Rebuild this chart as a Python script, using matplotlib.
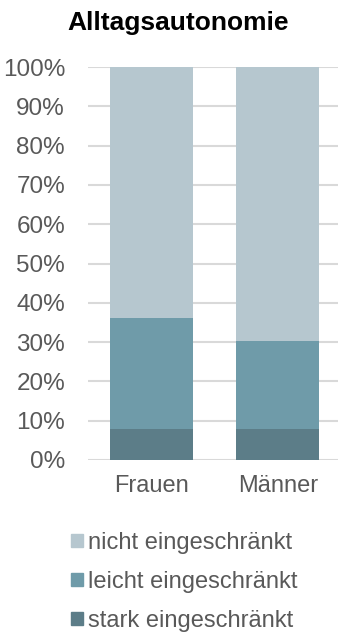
import matplotlib.pyplot as plt
from matplotlib.patches import Patch

plt.rcParams['font.family'] = ['Liberation Sans', 'DejaVu Sans']

gruppen = ['Frauen', 'Männer']
stark = [7.8, 7.9]
leicht = [28.3, 22.5]
nicht = [63.9, 69.6]
kategorien = ['stark eingeschränkt', 'leicht eingeschränkt', 'nicht eingeschränkt']
farben = ['#5C7D88', '#6F9BA9', '#B6C7CF']
grau = '#595959'

fig = plt.figure(figsize=(3.38, 6.37), dpi=100)
ax = fig.add_axes([88 / 338, 1 - 460 / 637, 253 / 338, 393 / 637])

x = range(len(gruppen))
unten = [0, 0]
for werte, farbe in zip([stark, leicht, nicht], farben):
    ax.bar(x, werte, bottom=unten, width=0.66, color=farbe, zorder=3)
    unten = [u + w for u, w in zip(unten, werte)]

ax.set_ylim(0, 100)
ax.set_xlim(-0.5, 1.5)
ax.set_yticks(range(0, 101, 10))
ax.set_yticklabels([f'{v}%' for v in range(0, 101, 10)], fontsize=17.5, color=grau)
ax.set_xticks(list(x))
ax.set_xticklabels(gruppen, fontsize=17, color=grau)
ax.tick_params(axis='y', length=0, pad=16.5)
ax.tick_params(axis='x', length=0, pad=11)
ax.grid(axis='y', color='#D9D9D9', linewidth=1.5, zorder=0)
for s in ax.spines.values():
    s.set_visible(False)

fig.text(178 / 338, 1 - 23 / 637, 'Alltagsautonomie', ha='center', va='center',
         fontsize=19, fontweight='bold', color='black')

handles = [Patch(color=c, label=l) for c, l in zip(farben, kategorien)][::-1]
fig.legend(handles=handles, loc='upper left', bbox_to_anchor=(71 / 338, 1 - 532 / 637),
           frameon=False, fontsize=17, labelcolor=grau, handlelength=0.5,
           handleheight=0.5, handletextpad=0.2, labelspacing=0.72, borderpad=0,
           borderaxespad=0)

fig.savefig('out.png', dpi=100)
